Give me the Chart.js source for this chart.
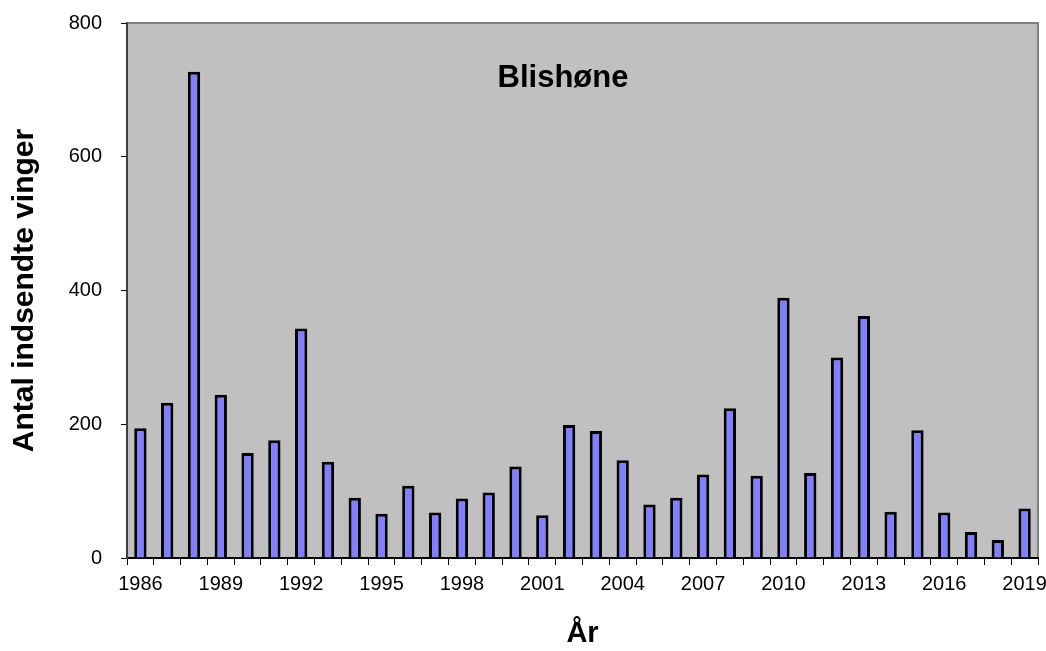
<!DOCTYPE html>
<html>
<head>
<meta charset="utf-8">
<script src="https://cdn.jsdelivr.net/npm/chart.js@4.4.0/dist/chart.umd.min.js"></script>
<style>
    html, body { margin: 0; padding: 0; background: #fff; }
    #wrap { width: 1046px; height: 651px; }
</style>
</head>
<body>
<div id="wrap"><canvas id="chart" width="1046" height="651"></canvas></div>
<script>
const years = ['1986', '1987', '1988', '1989', '1990', '1991', '1992', '1993', '1994', '1995',
    '1996', '1997', '1998', '1999', '2000', '2001', '2002', '2003', '2004', '2005',
    '2006', '2007', '2008', '2009', '2010', '2011', '2012', '2013', '2014', '2015',
    '2016', '2017', '2018', '2019']
const wings = [194, 232, 727, 244, 157, 176, 343, 144, 90, 66,
    108, 68, 89, 98, 137, 64, 199, 190, 146, 80,
    90, 125, 224, 123, 389, 127, 300, 362, 69, 191,
    68, 39, 27, 74]
const shownYears = ['1986', '1989', '1992', '1995', '1998', '2001', '2004', '2007', '2010', '2013', '2016', '2019']
const yTicks = [0, 200, 400, 600, 800]

const chartTitle = 'Blishøne'
const fontFamily = 'Arial, "Liberation Sans", sans-serif'

// Grå baggrund i plotområdet + titel inde i plottet
const plotArea = {
    id: 'plotArea',
    beforeDraw: (chart) => {
        const { ctx, chartArea } = chart
        ctx.save()
        ctx.fillStyle = '#c0c0c0'
        ctx.fillRect(chartArea.left, chartArea.top, chartArea.right - chartArea.left, chartArea.bottom - chartArea.top)
        ctx.strokeStyle = '#808080'
        ctx.lineWidth = 2
        ctx.beginPath()
        ctx.moveTo(chartArea.left, chartArea.top)
        ctx.lineTo(chartArea.right, chartArea.top)
        ctx.lineTo(chartArea.right, chartArea.bottom)
        ctx.stroke()
        ctx.restore()
    },
    afterDatasetsDraw: (chart) => {
        const { ctx } = chart
        ctx.save()
        ctx.fillStyle = '#000'
        ctx.font = 'bold 31px ' + fontFamily
        ctx.textAlign = 'center'
        ctx.textBaseline = 'middle'
        ctx.fillText(chartTitle, 563, 78)
        ctx.restore()
    }
}

new Chart(document.getElementById('chart').getContext('2d'), {
    type: 'bar',
    data: {
        labels: years,
        datasets: [{
            data: wings,
            backgroundColor: '#8080ff',
            borderColor: '#000',
            borderWidth: 3,
            barPercentage: 0.46,
            categoryPercentage: 1.0
        }]
    },
    options: {
        responsive: false,
        animation: false,
        layout: {
            padding: { left: 0, right: 8, top: 23, bottom: 0 }
        },
        plugins: {
            legend: { display: false },
            tooltip: { enabled: false }
        },
        scales: {
            x: {
                grid: {
                    drawOnChartArea: false,
                    drawTicks: true,
                    tickLength: 7,
                    tickColor: '#000',
                    offset: true
                },
                border: { color: '#000', width: 2 },
                ticks: {
                    autoSkip: false,
                    maxRotation: 0,
                    padding: 7,
                    color: '#000',
                    font: { family: fontFamily, size: 20 },
                    callback: function (value, index) {
                        const label = this.getLabelForValue(value)
                        return shownYears.includes(label) ? label : ''
                    }
                },
                title: {
                    display: true,
                    text: 'År',
                    color: '#000',
                    font: { family: fontFamily, size: 29, weight: 'bold' },
                    padding: { top: 0, bottom: 0 }
                },
                afterFit: (scale) => {
                    scale.height = 93
                    scale.paddingLeft = 0
                    scale.paddingRight = 0
                }
            },
            y: {
                min: 0,
                max: 800,
                afterBuildTicks: (scale) => {
                    scale.ticks = yTicks.map(v => ({ value: v }))
                },
                grid: {
                    drawOnChartArea: false,
                    drawTicks: true,
                    tickLength: 6,
                    tickColor: '#000'
                },
                border: { color: '#404040', width: 2 },
                ticks: {
                    padding: 19,
                    color: '#000',
                    font: { family: fontFamily, size: 20 }
                },
                title: {
                    display: true,
                    text: 'Antal indsendte vinger',
                    color: '#000',
                    font: { family: fontFamily, size: 30, weight: 'bold' },
                    padding: { top: 7, bottom: 0 }
                },
                afterFit: (scale) => {
                    scale.width = 127
                    scale.paddingTop = 0
                    scale.paddingBottom = 0
                }
            }
        }
    },
    plugins: [plotArea]
})
</script>
</body>
</html>
